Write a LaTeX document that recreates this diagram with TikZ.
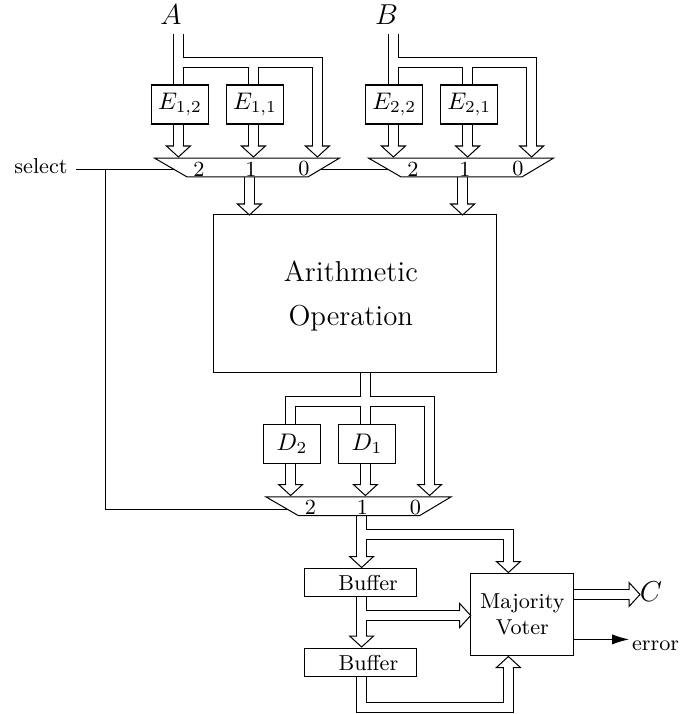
\documentclass[tikz,border=0pt]{standalone}
\usetikzlibrary{arrows.meta,calc}
\begin{document}
\begin{tikzpicture}[
  x=0.41667pt, y=-0.41667pt, line width=0.42pt,
  box/.style={draw, fill=white, inner sep=0pt},
  encbox/.style={box, minimum width=23.6pt, minimum height=16.25pt},
  bufbox/.style={box, minimum width=46.5pt, minimum height=11.8pt, font=\small},
  votebox/.style={box, minimum width=43pt, minimum height=34.3pt, font=\small, align=center},
  opbox/.style={box, minimum width=117.8pt, minimum height=65.7pt},
  optext/.style={inner sep=0pt, font=\fontsize{12}{18.3}\selectfont, align=center},
  muxlbl/.style={font=\small, inner sep=0pt},
  io/.style={font=\large, inner sep=0pt},
  % open block-arrow head for a bus, pointing down in local coordinates
  bushead/.pic={
    \fill[white] (-12,-11) -- (0,0) -- (12,-11) -- cycle;
    \draw[line join=miter] (-5,-12) -- (-5,-11) -- (-12,-11) -- (0,0)
         -- (12,-11) -- (5,-11) -- (5,-12);
  },
  % 3-to-1 multiplexer
  mux/.pic={
    \draw[fill=white, line join=miter] (-92.5,-9.4) -- (92.5,-9.4) -- (61,9.4) -- (-60,9.4) -- cycle;
    \node[muxlbl] at (-48,1.5) {2};
    \node[muxlbl] at (4,1.5) {1};
    \node[muxlbl] at (57,1.5) {0};
  }
]
\useasboundingbox (0,0) rectangle (680,714);

% ---- labels
\node[io] (A) at (171,15) {$A$};
\node[io] (B) at (386.5,15) {$B$};
\node[io] (C) at (651,592) {$C$};
\node[font=\small, inner sep=0pt, anchor=base] (sel) at (41,173.3) {select};

% ---- select wiring (runs behind the multiplexers)
\coordinate (s0) at (76,169.4);
\coordinate (s1) at (105.4,169.4);
\coordinate (s2) at (392,169.4);
\coordinate (s3) at (105.4,509.4);
\coordinate (s4) at (290,509.4);
\draw (s0) -- (s2);
\draw (s1) -- (s3) -- (s4);

% ---- buses: black outline pass, then white core pass
\foreach \lw/\col in {4.587pt/black, 3.747pt/white}{
  \begin{scope}[line width=\lw, line join=miter]
    % operand A
    \path[draw=\col] (178.4,34) -- (178.4,86);
    \path[draw=\col] (178.4,62.5) -- (317.4,62.5) -- (317.4,146);
    \path[draw=\col] (253.4,62.5) -- (253.4,86);
    \path[draw=\col] (178.4,123) -- (178.4,146);
    \path[draw=\col] (253.4,123) -- (253.4,146);
    \path[draw=\col] (249.4,176) -- (249.4,204);
    % operand B
    \path[draw=\col] (393.4,34) -- (393.4,86);
    \path[draw=\col] (393.4,62.5) -- (531.6,62.5) -- (531.6,146);
    \path[draw=\col] (467.6,62.5) -- (467.6,86);
    \path[draw=\col] (393.4,123) -- (393.4,146);
    \path[draw=\col] (467.6,123) -- (467.6,146);
    \path[draw=\col] (462.6,176) -- (462.6,204);
    % result decoding
    \path[draw=\col] (365.4,372) -- (365.4,425);
    \path[draw=\col] (365.4,401.5) -- (290.6,401.5) -- (290.6,425);
    \path[draw=\col] (365.4,401.5) -- (429.6,401.5) -- (429.6,484.5);
    \path[draw=\col] (290.6,463) -- (290.6,484.5);
    \path[draw=\col] (365.4,463) -- (365.4,484.5);
    % buffering and voting
    \path[draw=\col] (361.6,515.5) -- (361.6,556.5);
    \path[draw=\col] (361.6,534.5) -- (508.4,534.5) -- (508.4,561.5);
    \path[draw=\col] (361.6,596) -- (361.6,636);
    \path[draw=\col] (361.6,615.5) -- (459.7,615.5);
    \path[draw=\col] (361.6,676) -- (361.6,707.5) -- (508.4,707.5) -- (508.4,667.5);
    \path[draw=\col] (574,594.5) -- (629,594.5);
  \end{scope}
}

% ---- multiplexers
\path (247,167.5) pic {mux};
\path (461,167.5) pic {mux};
\path (358.5,506.3) pic {mux};

% ---- blocks
\node[encbox] (E12) at (180,104.5) {$E_{1,2}$};
\node[encbox] (E11) at (255,104.5) {$E_{1,1}$};
\node[encbox] (E22) at (394.3,104.5) {$E_{2,2}$};
\node[encbox] (E21) at (469.3,104.5) {$E_{2,1}$};
\node[opbox] (op) at (355.3,293.8) {};
\node[optext] (optxt) at (350.8,296) {Arithmetic\\Operation};
\node[encbox] (D2) at (292,443.7) {$D_2$};
\node[encbox] (D1) at (367,443.7) {$D_1$};
\node[bufbox] (buf1) at (360.2,582.5) {\hspace*{6.6pt}Buffer};
\node[bufbox] (buf2) at (360.5,662.5) {\hspace*{6.6pt}Buffer};
\node[votebox] (vote) at (522.3,614.5) {Majority\\Voter};

% ---- bus arrow heads
\foreach \p in {(178.4,157),(253.4,157),(317.4,157),(249.4,215),
                (393.4,157),(467.6,157),(531.6,157),(462.6,215),
                (290.6,495.5),(365.4,495.5),(429.6,495.5),
                (361.6,567.5),(508.4,572.5),(361.6,647)}
  \path \p pic {bushead};
\path (470.7,615.5) pic[rotate=90] {bushead};
\path (640,594.5) pic[rotate=90] {bushead};
\path (508.4,656.5) pic[rotate=180] {bushead};

% ---- error flag
\coordinate (errend) at (629,639.4);
\draw[-{Latex[length=7pt,width=4.2pt]}] (vote.east |- errend) -- (errend);
\node[font=\small, inner sep=0pt, anchor=base west] (err) at (631.5,650) {error};
\end{tikzpicture}
\end{document}
